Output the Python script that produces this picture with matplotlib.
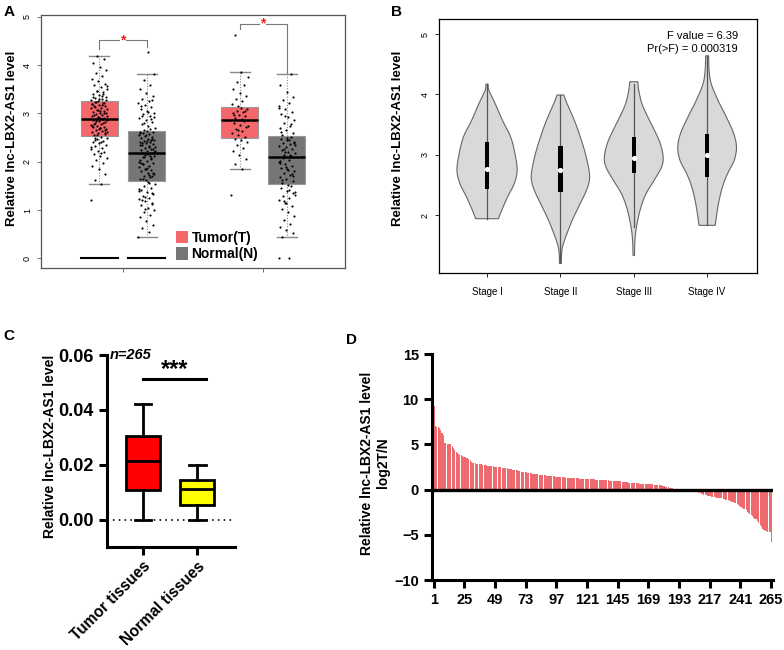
import numpy as np
import matplotlib
matplotlib.use("Agg")
import matplotlib.pyplot as plt
from matplotlib.patches import Patch, Polygon, Rectangle

plt.rcParams['font.family'] = ['Liberation Sans', 'DejaVu Sans']

# ---------------- Panel A data ----------------
a_groups = ["Tumor(T)", "Normal(N)"]
a_tumor1 = [1.2, 1.53, 1.62, 1.75, 1.85, 1.92, 1.98, 2.03, 2.08, 2.12, 2.16, 2.2, 2.23, 2.26, 2.29, 2.32,
            2.35, 2.38, 2.41, 2.44, 2.47, 2.5, 2.52, 2.55, 2.57, 2.59, 2.61, 2.63, 2.65, 2.67, 2.69, 2.71,
            2.73, 2.75, 2.77, 2.79, 2.81, 2.83, 2.85, 2.87, 2.88, 2.56, 2.62, 2.7, 2.78, 2.9, 2.92, 2.94,
            2.96, 2.98, 3.0, 3.02, 3.04, 3.06, 3.08, 3.1, 3.12, 3.14, 3.16, 3.18, 3.2, 3.22, 3.24, 2.95,
            3.05, 3.15, 3.21, 3.26, 3.28, 3.3, 3.32, 3.35, 3.38, 3.41, 3.44, 3.47, 3.5, 3.54, 3.58, 3.62,
            3.67, 3.72, 3.78, 3.84, 3.9, 3.97, 4.05, 4.12, 4.2,
            2.3, 2.4, 2.5, 2.6, 2.68, 2.74, 2.8, 2.84, 2.86, 2.91, 2.97, 3.01, 3.07, 3.11, 3.17, 3.23,
            3.27, 3.31, 3.34, 3.4, 3.46, 3.56, 2.18, 2.45, 2.66, 2.93, 3.19, 3.36]
a_normal1 = [0.45, 0.55, 0.62, 0.7, 0.78, 0.85, 0.9, 0.95, 1.0, 1.05, 1.1, 1.14, 1.18, 1.22, 1.26, 1.3,
             1.34, 1.38, 1.42, 1.46, 1.5, 1.54, 1.58, 1.2, 1.35, 1.62, 1.65, 1.68, 1.71, 1.74, 1.77, 1.8,
             1.83, 1.86, 1.89, 1.92, 1.95, 1.98, 2.01, 2.04, 2.07, 2.1, 2.13, 2.16, 2.18, 1.7, 1.85, 2.0,
             2.12, 1.95, 2.2, 2.22, 2.24, 2.26, 2.28, 2.3, 2.32, 2.34, 2.36, 2.38, 2.4, 2.42, 2.44, 2.46,
             2.48, 2.5, 2.52, 2.54, 2.56, 2.58, 2.6, 2.62, 2.63, 2.35, 2.45, 2.66, 2.7, 2.74, 2.78, 2.82,
             2.86, 2.9, 2.94, 2.98, 3.02, 3.06, 3.1, 3.14, 3.18, 3.22, 3.26, 3.3, 3.36, 3.42, 3.5, 3.6,
             3.7, 3.82, 4.27, 2.95,
             1.12, 1.28, 1.44, 1.56, 1.64, 1.76, 1.88, 1.97, 2.06, 2.15, 2.23, 2.31, 2.39, 2.47, 2.55,
             2.61, 2.68, 2.8, 2.92, 3.04, 3.16, 3.28, 1.02, 1.4, 1.73, 2.09, 2.27, 2.43, 2.59, 2.88]
a_tumor2 = [1.32, 1.85, 1.95, 2.05, 2.15, 2.22, 2.28, 2.34, 2.4, 2.45, 2.48, 2.52, 2.56, 2.6, 2.64, 2.68,
            2.72, 2.76, 2.8, 2.84, 2.66, 2.74, 2.88, 2.91, 2.94, 2.97, 3.0, 3.03, 3.06, 3.09, 3.12, 2.96,
            3.05, 3.16, 3.2, 3.25, 3.3, 3.36, 3.42, 3.5, 3.58, 3.66, 3.76, 3.86, 4.62]
a_normal2 = [0.0, 0.0, 0.45, 0.52, 0.58, 0.65, 0.72, 0.8, 0.88, 0.95, 1.02, 1.08, 1.14, 1.2, 1.25, 1.3,
             1.35, 1.4, 1.45, 1.5, 1.15, 1.32, 1.42, 1.56, 1.6, 1.64, 1.68, 1.72, 1.76, 1.8, 1.84, 1.88,
             1.92, 1.96, 2.0, 2.04, 2.08, 1.7, 1.85, 1.98, 2.12, 2.15, 2.18, 2.21, 2.24, 2.27, 2.3, 2.33,
             2.36, 2.39, 2.42, 2.45, 2.48, 2.51, 2.2, 2.35, 2.46, 2.56, 2.6, 2.65, 2.7, 2.75, 2.8, 2.86,
             2.92, 2.98, 3.04, 3.1, 3.16, 3.22, 3.28, 3.35, 3.45, 3.6, 3.82,
             1.18, 1.38, 1.52, 1.62, 1.74, 1.9, 2.02, 2.14, 2.26, 2.38, 2.5, 2.62, 2.78, 2.95, 3.12]
# box stats: (whislo, q1, med, q3, whishi)
a_box_stats = [(1.53, 2.54, 2.89, 3.25, 4.2),
               (0.45, 1.60, 2.19, 2.64, 3.82),
               (1.85, 2.50, 2.86, 3.14, 3.86),
               (0.45, 1.54, 2.10, 2.53, 3.82)]
a_zero_groups = [0, 1]   # groups with a block of zero values

# ---------------- Panel B data ----------------
b_stages = ["Stage I", "Stage II", "Stage III", "Stage IV"]
b_prof_y = [[1.94, 2.08, 2.30, 2.52, 2.74, 3.02, 3.30, 3.57, 3.85, 4.07, 4.17],
            [1.20, 1.30, 1.46, 1.63, 1.91, 2.19, 2.41, 2.58, 2.74, 3.02, 3.30, 3.57, 3.85, 3.99],
            [1.33, 1.53, 1.72, 1.92, 2.14, 2.36, 2.58, 2.80, 2.97, 3.19, 3.41, 3.63, 3.85, 4.07, 4.21],
            [1.83, 2.19, 2.47, 2.69, 2.91, 3.13, 3.36, 3.63, 3.91, 4.18, 4.40, 4.64]]
b_prof_w = [[0.155, 0.20, 0.28, 0.37, 0.41, 0.38, 0.32, 0.21, 0.11, 0.025, 0.015],
            [0.013, 0.014, 0.027, 0.07, 0.16, 0.27, 0.355, 0.395, 0.39, 0.34, 0.27, 0.19, 0.09, 0.045],
            [0.01, 0.014, 0.027, 0.055, 0.10, 0.17, 0.28, 0.38, 0.40, 0.36, 0.28, 0.19, 0.11, 0.068, 0.055],
            [0.11, 0.155, 0.21, 0.28, 0.37, 0.40, 0.36, 0.26, 0.145, 0.055, 0.027, 0.02]]
b_whisk = [(1.94, 4.17), (1.20, 3.99), (1.80, 4.17), (1.83, 4.64)]
b_box = [(2.44, 2.76, 3.21), (2.38, 2.74, 3.14), (2.69, 2.94, 3.29), (2.63, 3.00, 3.35)]
b_fvalue = "F value = 6.39"
b_pvalue = "Pr(>F) = 0.000319"

# ---------------- Panel C data ----------------
c_groups = ["Tumor tissues", "Normal tissues"]
c_stats = [(0.0, 0.0107, 0.0214, 0.0305, 0.042),
           (0.0, 0.0053, 0.0112, 0.0145, 0.020)]
c_n = "n=265"

# ---------------- Panel D data ----------------
d_values = [9.2,
            7.0, 6.95, 6.9, 6.8, 6.6, 6.3, 6.0,
            5.1, 5.1, 5.05, 5.05, 5.0, 5.0,
            4.8, 4.6, 4.4, 4.2,
            4.0, 3.95, 3.85, 3.8,
            3.7, 3.65, 3.6, 3.55, 3.5, 3.4, 3.3, 3.1,
            2.95, 2.9, 2.9, 2.85, 2.85, 2.8, 2.8, 2.8, 2.75, 2.75, 2.7, 2.7,
            2.65, 2.63, 2.6, 2.6, 2.58, 2.55, 2.53, 2.5, 2.5, 2.48, 2.45, 2.43, 2.42, 2.4, 2.38, 2.35,
            2.3, 2.28, 2.25, 2.22, 2.2, 2.18, 2.15, 2.12, 2.1, 2.05, 2.0, 1.98, 1.95, 1.92, 1.9,
            1.88, 1.85, 1.82, 1.8, 1.78, 1.75, 1.72, 1.7, 1.68, 1.66, 1.64, 1.62, 1.6,
            1.58, 1.56, 1.55, 1.53, 1.52, 1.5, 1.48, 1.47, 1.45, 1.44, 1.42, 1.41, 1.4, 1.38, 1.37, 1.35,
            1.34, 1.33, 1.32, 1.31, 1.3, 1.29, 1.28, 1.27, 1.26, 1.25, 1.24, 1.23, 1.22, 1.21, 1.2, 1.2,
            1.19, 1.18, 1.17, 1.16, 1.15,
            1.14, 1.13, 1.12, 1.11, 1.1, 1.09, 1.08, 1.07, 1.06, 1.05, 1.04, 1.03, 1.02, 1.01, 1.0, 0.99,
            0.98, 0.97, 0.96, 0.95, 0.94, 0.93, 0.92,
            0.9, 0.88, 0.86, 0.84, 0.82, 0.8, 0.78, 0.76,
            0.74, 0.73, 0.72, 0.71, 0.7, 0.69, 0.68, 0.67, 0.66, 0.65, 0.64, 0.63, 0.62, 0.61, 0.6, 0.59,
            0.58, 0.57, 0.56, 0.55, 0.54, 0.53, 0.52, 0.5,
            0.46, 0.42, 0.38, 0.34, 0.3, 0.26, 0.22, 0.18, 0.15, 0.12, 0.09, 0.06, 0.04,
            0.03, 0.02, 0.02, 0.01, 0.01, 0.0, -0.01, -0.02, -0.03, -0.05, -0.08, -0.12, -0.16, -0.2, -0.25,
            -0.3, -0.35, -0.4, -0.45, -0.5, -0.55, -0.6, -0.65,
            -0.7, -0.72, -0.75, -0.78, -0.8, -0.82, -0.85, -0.88, -0.9, -0.92, -0.95, -0.98, -1.0, -1.05, -1.1,
            -1.15, -1.2, -1.25, -1.3, -1.35, -1.4, -1.45, -1.5,
            -1.6, -1.7, -1.8, -1.9, -2.0, -2.1, -2.2, -2.3,
            -2.5, -2.6, -2.7, -2.8, -2.9,
            -3.1, -3.2, -3.3, -3.5,
            -3.7, -3.9, -4.1,
            -4.4, -4.5, -4.6, -4.6, -4.65, -4.7, -4.7,
            -5.8]
d_xticks = [1, 25, 49, 73, 97, 121, 145, 169, 193, 217, 241, 265]

W, H = 784, 650
fig = plt.figure(figsize=(W / 100, H / 100), dpi=100)


def ax_px(l, t, r, b):
    return fig.add_axes([l / W, 1 - b / H, (r - l) / W, (b - t) / H])


ylabel = "Relative lnc-LBX2-AS1 level"

# ======================= Panel A =======================
axA = ax_px(41, 15, 345, 268)
axA.set_xlim(0.414, 2.586)
axA.set_ylim(-0.2, 5.04)
a_pos = [0.83, 1.17, 1.835, 2.171]
a_cols = ['#F4676A', '#767676']
stats = []
for (lo, q1, md, q3, hi) in a_box_stats:
    stats.append(dict(whislo=lo, q1=q1, med=md, q3=q3, whishi=hi, fliers=[]))
bp = axA.bxp(stats, positions=a_pos, widths=0.265, patch_artist=True, showfliers=False,
             whiskerprops=dict(color='#888888', linestyle=(0, (1, 1.5)), lw=0.8),
             capprops=dict(color='#888888', lw=1.0),
             medianprops=dict(color='black', lw=1.8), capwidths=0.14, manage_ticks=False)
for i, p in enumerate(bp['boxes']):
    p.set_facecolor(a_cols[i % 2])
    p.set_edgecolor('#999999')
    p.set_linewidth(0.8)
for i, vals in enumerate([a_tumor1, a_normal1, a_tumor2, a_normal2]):
    n = len(vals)
    jit = np.array([((k * 0.6180339) % 1.0) * 2 - 1 for k in range(n)]) * 0.06
    axA.scatter(a_pos[i] + jit, vals, s=2.4, c='black', lw=0, zorder=3)
for g in a_zero_groups:
    axA.plot([a_pos[g] - 0.1325, a_pos[g] + 0.1325], [0, 0], color='black', lw=1.5, zorder=3)
# significance brackets
br = '#777777'
axA.plot([a_pos[0], a_pos[0], a_pos[1], a_pos[1]], [4.33, 4.52, 4.52, 4.37], color=br, lw=0.8)
axA.text(1.0, 4.52, '*', color='#EE2222', ha='center', va='center', fontsize=10, fontweight='bold',
         bbox=dict(facecolor='white', edgecolor='none', pad=0.5))
axA.plot([a_pos[2], a_pos[2], a_pos[3], a_pos[3]], [4.75, 4.855, 4.855, 3.83], color=br, lw=0.8)
axA.text(2.0, 4.855, '*', color='#EE2222', ha='center', va='center', fontsize=10, fontweight='bold',
         bbox=dict(facecolor='white', edgecolor='none', pad=0.5))
axA.set_xticks([1, 2])
axA.set_xticklabels([])
axA.set_yticks([0, 1, 2, 3, 4, 5])
axA.tick_params(axis='y', labelsize=6.5, length=3, width=0.6, color='#555555', labelrotation=90)
axA.tick_params(axis='x', length=3, width=0.6, color='#555555')
for lab in axA.get_yticklabels():
    lab.set_va('center')
for s in axA.spines.values():
    s.set_color('#555555')
    s.set_linewidth(0.9)
leg = axA.legend(handles=[Patch(facecolor=a_cols[0], edgecolor='none'),
                          Patch(facecolor=a_cols[1], edgecolor='none')],
                 labels=a_groups, loc='upper left', bbox_to_anchor=(0.445, 0.148), frameon=False,
                 borderaxespad=0, borderpad=0, handlelength=0.85, handleheight=1.0, handletextpad=0.25,
                 labelspacing=0.2, prop=dict(weight='bold', size=10))
fig.text(12 / W, 1 - 138 / H, ylabel, rotation=90, ha='center', va='center', fontsize=9.5, fontweight='bold')
fig.text(4 / W, 1 - 12 / H, 'A', fontsize=11, fontweight='bold', va='center')


# ======================= Panel B =======================
def catmull(xs, ys, n=12):
    P = np.column_stack([xs, ys])
    P = np.vstack([P[0], P, P[-1]])
    out = []
    for i in range(1, len(P) - 2):
        p0, p1, p2, p3 = P[i - 1], P[i], P[i + 1], P[i + 2]
        for t in np.linspace(0, 1, n, endpoint=False):
            t2, t3 = t * t, t * t * t
            out.append(0.5 * ((2 * p1) + (-p0 + p2) * t + (2 * p0 - 5 * p1 + 4 * p2 - p3) * t2 +
                              (-p0 + 3 * p1 - 3 * p2 + p3) * t3))
    out.append(P[-2])
    return np.array(out)


axB = ax_px(439, 19, 757, 273)
axB.set_xlim(0.345, 4.68)
axB.set_ylim(1.04, 5.25)
for i in range(4):
    c = i + 1
    sm = catmull(b_prof_w[i], b_prof_y[i])
    w, y = sm[:, 0], sm[:, 1]
    pts = np.vstack([np.column_stack([c + w, y]), np.column_stack([c - w[::-1], y[::-1]])])
    axB.add_patch(Polygon(pts, closed=True, facecolor='#D9D9D9', edgecolor='#666666', lw=0.8, zorder=2))
    lo, hi = b_whisk[i]
    axB.plot([c, c], [lo, hi], color='#555555', lw=0.9, zorder=3)
    q1, md, q3 = b_box[i]
    axB.add_patch(Rectangle((c - 0.03, q1), 0.06, q3 - q1, facecolor='black', edgecolor='none', zorder=4))
    axB.scatter([c], [md], s=14, c='white', lw=0, zorder=5)
axB.set_xticks([1, 2, 3, 4])
axB.set_xticklabels(b_stages, fontsize=7)
axB.set_yticks([2, 3, 4, 5])
axB.tick_params(axis='y', labelsize=6.5, length=3, width=0.6, labelrotation=90)
axB.tick_params(axis='x', length=3, width=0.6, pad=7)
for lab in axB.get_yticklabels():
    lab.set_va('center')
for s in axB.spines.values():
    s.set_linewidth(0.9)
axB.text(0.94, 0.935, b_fvalue, transform=axB.transAxes, ha='right', va='center', fontsize=8)
axB.text(0.94, 0.88, b_pvalue, transform=axB.transAxes, ha='right', va='center', fontsize=8)
fig.text(398 / W, 1 - 138 / H, ylabel, rotation=90, ha='center', va='center', fontsize=9.5, fontweight='bold')
fig.text(391 / W, 1 - 12 / H, 'B', fontsize=11, fontweight='bold', va='center')

# ======================= Panel C =======================
axC = ax_px(107, 355, 235, 547)
axC.set_xlim(0.333, 2.70)
axC.set_ylim(-0.01, 0.06)
cst = [dict(whislo=lo, q1=q1, med=md, q3=q3, whishi=hi, fliers=[]) for (lo, q1, md, q3, hi) in c_stats]
bpc = axC.bxp(cst, positions=[1, 2], widths=0.62, patch_artist=True, showfliers=False,
              whiskerprops=dict(color='black', lw=2), capprops=dict(color='black', lw=2),
              medianprops=dict(color='black', lw=2), capwidths=0.31, manage_ticks=False,
              boxprops=dict(lw=2))
for p, col in zip(bpc['boxes'], ['#FF0000', '#FFFF00']):
    p.set_facecolor(col)
    p.set_edgecolor('black')
    p.set_linewidth(2)
axC.axhline(0, color='black', lw=1.2, ls=(0, (1, 2.5)), zorder=0)
axC.plot([1.0, 2.17], [0.0512, 0.0512], color='black', lw=2.2)
axC.text(1.58, 0.0548, '***', ha='center', va='center', fontsize=17, fontweight='bold')
axC.text(0.38, 0.060, c_n, ha='left', va='center', fontsize=10.5, fontweight='bold', style='italic')
for s in ['top', 'right']:
    axC.spines[s].set_visible(False)
for s in ['left', 'bottom']:
    axC.spines[s].set_linewidth(2.2)
axC.set_yticks([0.0, 0.02, 0.04, 0.06])
axC.set_yticklabels(['0.00', '0.02', '0.04', '0.06'])
axC.set_xticks([1, 2])
axC.set_xticklabels(c_groups, rotation=45, ha='right', rotation_mode='anchor')
axC.tick_params(axis='both', width=2.2, length=6, labelsize=13)
axC.tick_params(axis='x', pad=2.5)
for lab in axC.get_xticklabels() + axC.get_yticklabels():
    lab.set_fontweight('bold')
for lab in axC.get_xticklabels():
    lab.set_fontsize(11.2)
fig.text(50 / W, 1 - 446 / H, ylabel, rotation=90, ha='center', va='center', fontsize=10, fontweight='bold')
fig.text(3 / W, 1 - 336 / H, 'C', fontsize=11, fontweight='bold', va='center')

# ======================= Panel D =======================
axD = ax_px(432, 354, 773, 580)
axD.set_xlim(-0.4, 266.5)
axD.set_ylim(-10, 15)
xs = np.arange(1, len(d_values) + 1)
axD.bar(xs, d_values, width=0.85, align='edge', color='#EE6A6E', lw=0)
axD.axhline(0, color='black', lw=2.4, zorder=3)
for s in ['top', 'right']:
    axD.spines[s].set_visible(False)
for s in ['left', 'bottom']:
    axD.spines[s].set_linewidth(2.2)
axD.set_yticks([-10, -5, 0, 5, 10, 15])
axD.set_xticks(d_xticks)
axD.tick_params(axis='both', width=2.2, length=6, labelsize=10.5)
for lab in axD.get_xticklabels() + axD.get_yticklabels():
    lab.set_fontweight('bold')
fig.text(375 / W, 1 - 463 / H, ylabel + "\nlog2T/N", rotation=90, ha='center', va='center',
         fontsize=10, fontweight='bold', multialignment='center', linespacing=1.1)
fig.text(346 / W, 1 - 340 / H, 'D', fontsize=11, fontweight='bold', va='center')

fig.savefig('out.png', dpi=100)
